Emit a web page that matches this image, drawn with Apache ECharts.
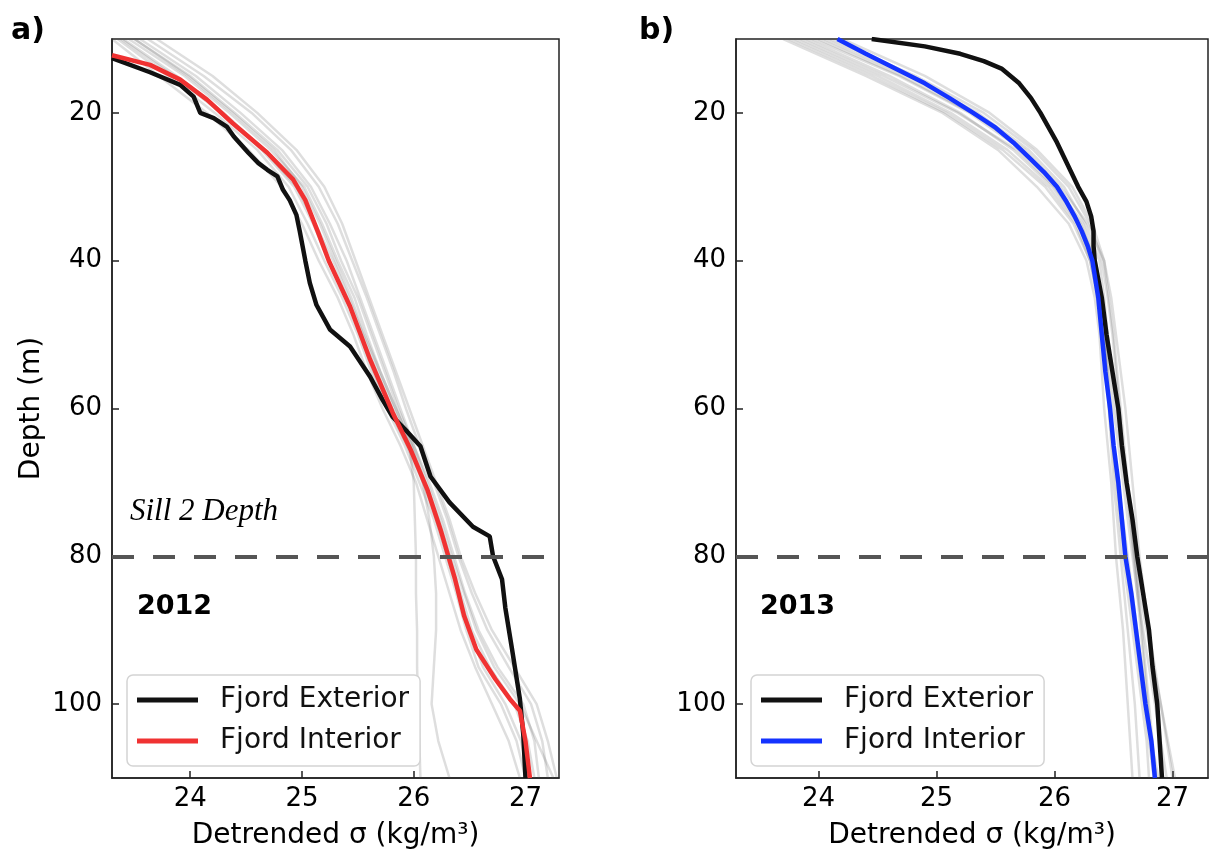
<!DOCTYPE html>
<html><head><meta charset="utf-8">
<script src="https://cdn.jsdelivr.net/npm/echarts@6/dist/echarts.min.js"></script>
<style>html,body{margin:0;padding:0;background:#fff}#c{width:1209px;height:855px}</style>
</head><body><div id="c"></div>
<script>
// ---------- data ----------
const xTicks = [24, 25, 26, 27];
const yTicks = [20, 40, 60, 80, 100];
const sillDepth = 80;
const legendNames = ['Fjord Exterior', 'Fjord Interior'];

// depth grid for the individual (grey) profiles
const depthGrid = [10,15,20,25,30,35,40,45,50,55,60,65,70,75,80,85,90,95,100,105,110];

// 2012 grey profiles (sigma at depthGrid)
const grey2012 = [
  [23.45,23.95,24.35,24.72,25.02,25.18,25.32,25.47,25.58,25.70,25.84,25.98,26.10,26.22,26.32,26.42,26.52,26.68,26.90,27.02,27.08],
  [23.35,23.80,24.22,24.60,24.88,25.05,25.20,25.36,25.50,25.62,25.76,25.92,26.05,26.18,26.28,26.38,26.47,26.58,26.78,26.92,27.00],
  [23.55,24.05,24.45,24.82,25.08,25.25,25.40,25.52,25.64,25.76,25.88,26.00,26.14,26.26,26.36,26.46,26.58,26.75,26.98,27.08,27.12],
  [23.30,23.72,24.15,24.52,24.82,25.00,25.15,25.32,25.46,25.58,25.72,25.88,26.02,26.12,26.22,26.32,26.42,26.55,26.70,26.85,26.95],
  [23.40,23.88,24.30,24.66,24.95,25.12,25.28,25.42,25.55,25.68,25.82,25.96,26.00,26.01,26.02,26.02,26.03,26.03,26.04,26.05,26.06],
  [23.50,23.98,24.38,24.75,25.00,25.16,25.30,25.44,25.56,25.70,25.84,25.98,26.08,26.14,26.18,26.20,26.20,26.18,26.16,26.22,26.32],
  [23.62,24.12,24.55,24.90,25.15,25.32,25.45,25.58,25.70,25.82,25.93,26.05,26.18,26.30,26.40,26.52,26.66,26.85,27.05,27.15,27.20],
  [23.50,24.00,24.40,24.78,25.05,25.22,25.35,25.50,25.62,25.74,25.86,26.00,26.12,26.24,26.34,26.45,26.56,26.72,26.95,27.10,27.25],
  [23.38,23.85,24.28,24.64,24.93,25.10,25.24,25.40,25.52,25.64,25.78,25.94,26.08,26.20,26.30,26.40,26.50,26.62,26.82,26.96,27.03],
  [23.70,24.20,24.60,24.95,25.20,25.36,25.48,25.60,25.72,25.84,25.96,26.08,26.20,26.32,26.42,26.55,26.70,26.90,27.10,27.20,27.28]
];

// 2013 grey profiles (sigma at depthGrid)
const grey2013 = [
  [23.70,24.40,25.05,25.52,25.85,26.12,26.27,26.34,26.38,26.40,26.42,26.45,26.48,26.50,26.52,26.55,26.58,26.60,26.62,26.64,26.66],
  [23.90,24.60,25.20,25.65,25.98,26.20,26.32,26.38,26.42,26.46,26.50,26.54,26.58,26.62,26.66,26.70,26.75,26.80,26.85,26.90,26.95],
  [24.05,24.75,25.35,25.78,26.08,26.26,26.38,26.42,26.45,26.48,26.52,26.56,26.60,26.64,26.68,26.72,26.78,26.84,26.90,26.96,27.02],
  [23.80,24.50,25.12,25.60,25.95,26.18,26.30,26.36,26.40,26.43,26.46,26.49,26.52,26.55,26.58,26.62,26.66,26.70,26.74,26.78,26.80],
  [24.20,24.90,25.45,25.85,26.15,26.32,26.42,26.46,26.50,26.53,26.56,26.59,26.62,26.65,26.68,26.71,26.74,26.77,26.80,26.83,26.86],
  [23.95,24.68,25.28,25.72,26.02,26.24,26.35,26.40,26.43,26.45,26.47,26.50,26.53,26.56,26.60,26.64,26.68,26.72,26.76,26.80,26.84],
  [24.10,24.82,25.40,25.82,26.12,26.30,26.40,26.45,26.49,26.52,26.55,26.58,26.61,26.64,26.67,26.70,26.73,26.76,26.79,26.82,26.86],
  [23.75,24.45,25.08,25.56,25.92,26.16,26.30,26.37,26.41,26.44,26.47,26.50,26.54,26.58,26.62,26.66,26.70,26.74,26.78,26.82,26.88],
  [24.00,24.70,25.30,25.75,26.05,26.28,26.42,26.48,26.52,26.56,26.60,26.63,26.66,26.69,26.72,26.76,26.80,26.85,26.90,26.95,27.00],
  [23.85,24.55,25.18,25.68,26.00,26.22,26.34,26.39,26.42,26.44,26.46,26.48,26.50,26.53,26.56,26.59,26.62,26.65,26.68,26.70,26.72]
];

// 2012 Fjord Exterior (black)
const extDepth2012 = [12.6,14.5,16.2,17.8,20.0,20.7,21.9,23.2,25.4,26.8,27.7,28.6,30.4,31.8,33.8,36,40,43,46,49.3,51.6,55.7,58.8,61.1,63.1,65.1,69.2,72.7,76.0,77.3,80,83.1,87,92.6,99.3,104,110];
const extSigma2012 = [23.30,23.64,23.91,24.03,24.09,24.21,24.33,24.39,24.52,24.61,24.69,24.78,24.83,24.89,24.95,24.98,25.03,25.07,25.13,25.25,25.43,25.61,25.72,25.81,25.94,26.06,26.15,26.32,26.53,26.68,26.71,26.79,26.82,26.88,26.95,26.98,27.00];

// 2012 Fjord Interior (red)
const intDepth2012 = [12.2,13.5,15.5,18.2,21.4,25.4,29,31.8,36,40,46.2,53.4,60.5,65.5,70.9,76.4,80,83.1,88,92.6,96.6,99.3,100.9,105,110];
const intSigma2012 = [23.30,23.64,23.91,24.15,24.38,24.69,24.92,25.03,25.14,25.24,25.43,25.61,25.81,25.97,26.12,26.24,26.31,26.37,26.45,26.56,26.73,26.86,26.95,27.00,27.04];

// 2013 Fjord Exterior (black)
const extDepth2013 = [10,11,12,13,14,16,18,20,22,24,26,28,30,32,34,36,38,40,45,50,55,60,65,70,75,80,85,90,95,100,105,110];
const extSigma2013 = [24.45,24.90,25.20,25.40,25.55,25.70,25.80,25.88,25.95,26.02,26.08,26.14,26.20,26.27,26.31,26.33,26.33,26.34,26.40,26.44,26.49,26.54,26.57,26.61,26.66,26.70,26.75,26.80,26.83,26.87,26.89,26.91];

// 2013 Fjord Interior (blue)
const intDepth2013 = [10,12,14,16,18,20,22,24,26,28,30,32,34,36,38,40,45,50,55,60,65,70,75,80,85,90,95,100,105,110];
const intSigma2013 = [24.16,24.40,24.65,24.90,25.11,25.31,25.50,25.65,25.78,25.91,26.02,26.10,26.17,26.23,26.28,26.32,26.37,26.40,26.43,26.47,26.50,26.54,26.57,26.60,26.65,26.69,26.73,26.77,26.82,26.85];

// ---------- chart ----------
const FONT = 'DejaVu Sans';
const BLACK = '#111111', RED = '#f03232', BLUE = '#1433ff';
function pairs(xs, ds) { return xs.map((v, i) => [v, ds[i]]); }

function xAxisFor(idx) {
  return {
    gridIndex: idx, type: 'value', min: 23.3, max: 27.3,
    name: 'Detrended σ (kg/m³)', nameLocation: 'middle', nameGap: 44,
    nameTextStyle: { fontSize: 28, fontFamily: FONT, color: '#000' },
    axisLine: { show: true, lineStyle: { color: '#222', width: 1.5 } },
    axisTick: { show: true, inside: true, length: 7, customValues: xTicks, lineStyle: { color: '#222', width: 1.5 } },
    axisLabel: { customValues: xTicks, fontSize: 26, fontFamily: FONT, color: '#000', margin: 8 },
    splitLine: { show: false }
  };
}
function yAxisFor(idx) {
  return {
    gridIndex: idx, type: 'value', min: 10, max: 110, inverse: true,
    name: idx === 0 ? 'Depth (m)' : '', nameLocation: 'middle', nameGap: 66,
    nameTextStyle: { fontSize: 28, fontFamily: FONT, color: '#000' },
    axisLine: { show: true, lineStyle: { color: '#222', width: 1.5 } },
    axisTick: { show: true, inside: true, length: 7, customValues: yTicks, lineStyle: { color: '#222', width: 1.5 } },
    axisLabel: { customValues: yTicks, fontSize: 26, fontFamily: FONT, color: '#000', margin: 10 },
    splitLine: { show: false }
  };
}

const series = [];
function addGrey(profiles, idx) {
  profiles.forEach(p => series.push({
    type: 'line', xAxisIndex: idx, yAxisIndex: idx, data: pairs(p, depthGrid),
    showSymbol: false, silent: true, z: 1, animation: false,
    lineStyle: { color: '#5a5a5a', width: 2.5, opacity: 0.2 }
  }));
}
addGrey(grey2012, 0);
addGrey(grey2013, 1);

const sillLine = {
  silent: true, symbol: ['none', 'none'], animation: false,
  label: { show: false },
  lineStyle: { type: [22, 19], color: '#555555', width: 4 },
  data: [{ yAxis: sillDepth }]
};

series.push({
  name: 'Fjord Exterior', type: 'line', xAxisIndex: 0, yAxisIndex: 0,
  data: pairs(extSigma2012, extDepth2012), showSymbol: false, z: 3, animation: false,
  lineStyle: { color: BLACK, width: 4.5 }, itemStyle: { color: BLACK }
});
series.push({
  name: 'Fjord Interior', type: 'line', xAxisIndex: 0, yAxisIndex: 0,
  data: pairs(intSigma2012, intDepth2012), showSymbol: false, z: 4, animation: false,
  lineStyle: { color: RED, width: 4.5 }, itemStyle: { color: RED },
  markLine: sillLine
});
series.push({
  name: 'Fjord Exterior', type: 'line', xAxisIndex: 1, yAxisIndex: 1,
  data: pairs(extSigma2013, extDepth2013), showSymbol: false, z: 3, animation: false,
  lineStyle: { color: BLACK, width: 4.5 }, itemStyle: { color: BLACK }
});
series.push({
  name: 'Fjord Interior', type: 'line', xAxisIndex: 1, yAxisIndex: 1,
  data: pairs(intSigma2013, intDepth2013), showSymbol: false, z: 4, animation: false,
  lineStyle: { color: BLUE, width: 4.5 }, itemStyle: { color: BLUE },
  markLine: sillLine
});

function legendFor(left, interiorColor) {
  return {
    orient: 'vertical', left: left, top: 675, selectedMode: false,
    itemWidth: 61, itemHeight: 5, itemGap: 13,
    padding: [11, 11, 11, 10],
    borderColor: '#d4d4d4', borderWidth: 1.5, borderRadius: 6, backgroundColor: '#ffffff',
    textStyle: { fontSize: 28, fontFamily: FONT, color: '#111', padding: [0, 0, 0, 17] },
    data: [
      { name: legendNames[0], icon: 'rect', itemStyle: { color: BLACK } },
      { name: legendNames[1], icon: 'rect', itemStyle: { color: interiorColor } }
    ]
  };
}

function txt(x, y, text, font, extra) {
  return Object.assign({ type: 'text', x: x, y: y, z: 100,
    style: Object.assign({ text: text, fill: '#000', verticalAlign: 'middle' }, font) }, extra || {});
}

const option = {
  backgroundColor: '#ffffff',
  animation: false,
  grid: [
    { left: 112, top: 39, width: 447, height: 740, show: true, borderColor: '#222', borderWidth: 1.5, backgroundColor: 'transparent' },
    { left: 736, top: 39, width: 472, height: 740, show: true, borderColor: '#222', borderWidth: 1.5, backgroundColor: 'transparent' }
  ],
  xAxis: [xAxisFor(0), xAxisFor(1)],
  yAxis: [yAxisFor(0), yAxisFor(1)],
  legend: [legendFor(127, RED), legendFor(751, BLUE)],
  series: series,
  graphic: [
    txt(11, 31, 'a)', { fontSize: 30, fontWeight: 'bold', fontFamily: FONT }),
    txt(639, 31, 'b)', { fontSize: 30, fontWeight: 'bold', fontFamily: FONT }),
    txt(130, 512, 'Sill 2 Depth', { fontSize: 31, fontStyle: 'italic', fontFamily: 'Liberation Serif' }),
    txt(137, 607, '2012', { fontSize: 27, fontWeight: 'bold', fontFamily: FONT }),
    txt(760, 607, '2013', { fontSize: 27, fontWeight: 'bold', fontFamily: FONT })
  ]
};

const chart = echarts.init(document.getElementById('c'), null, { renderer: 'canvas' });
chart.setOption(option);
</script>
</body></html>
